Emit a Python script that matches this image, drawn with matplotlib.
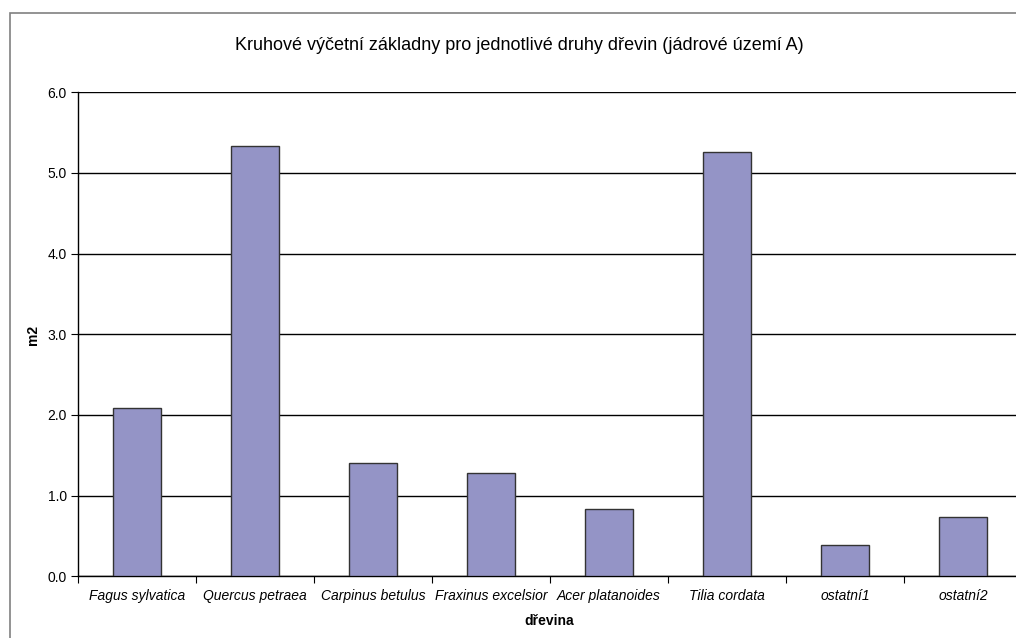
import matplotlib
matplotlib.use("Agg")
import matplotlib.pyplot as plt
from matplotlib.patches import Rectangle

plt.rcParams['font.family'] = ['Liberation Sans', 'DejaVu Sans']

# kruhové výčetní základny [m2]
dreviny = ["Fagus sylvatica", "Quercus petraea", "Carpinus betulus",
           "Fraxinus excelsior", "Acer platanoides", "Tilia cordata",
           "ostatní1", "ostatní2"]
zakladny = [2.09, 5.34, 1.40, 1.28, 0.84, 5.26, 0.385, 0.73]
y_ticks = [0.0, 1.0, 2.0, 3.0, 4.0, 5.0, 6.0]

W, H = 1016, 638
fig = plt.figure(figsize=(W / 100, H / 100), dpi=100)

# rámeček oblasti grafu
fig.patches.append(Rectangle((10 / W, -0.1), 1.2, 1.1 - 13 / H,
                             transform=fig.transFigure, fill=False,
                             edgecolor="#808080", linewidth=1.2))

ax = fig.add_axes([78 / W, 61.7 / H, (1022 - 78) / W, (576.3 - 92.3) / H])
x = list(range(len(dreviny)))
ax.bar(x, zakladny, width=0.4, color="#9494C6", edgecolor="#333333",
       linewidth=1.0, zorder=3)

ax.set_xlim(-0.5, len(dreviny) - 0.5)
ax.set_ylim(0, 6)
ax.set_yticks(y_ticks)
ax.set_yticklabels([f"{v:.1f}" for v in y_ticks], fontsize=10)
ax.yaxis.grid(True, color="#000000", linewidth=1.0, zorder=0)
ax.set_axisbelow(True)

# popisky druhů mezi značkami
ax.set_xticks([i - 0.5 for i in range(len(dreviny) + 1)])
ax.set_xticklabels([])
ax.set_xticks(x, minor=True)
ax.set_xticklabels(dreviny, minor=True, fontsize=10, style="italic")
ax.tick_params(axis="x", which="minor", length=0, pad=9)
ax.tick_params(axis="x", which="major", length=5, direction="out")
ax.tick_params(axis="y", length=5, direction="out", pad=3)

for s in ["top", "right"]:
    ax.spines[s].set_visible(False)
for s in ["left", "bottom"]:
    ax.spines[s].set_color("#000000")
    ax.spines[s].set_linewidth(1.0)

fig.text(33 / W, 1 - 335 / H, "m2", rotation=90, fontsize=10,
         fontweight="bold", ha="center", va="center")
fig.text(549 / W, 1 - 621 / H, "dřevina", fontsize=10,
         fontweight="bold", ha="center", va="center")
fig.text(519 / W, 1 - 46 / H,
         "Kruhové výčetní základny pro jednotlivé druhy dřevin (jádrové území A)",
         fontsize=13, ha="center", va="center")

fig.savefig("out.png", dpi=100)
